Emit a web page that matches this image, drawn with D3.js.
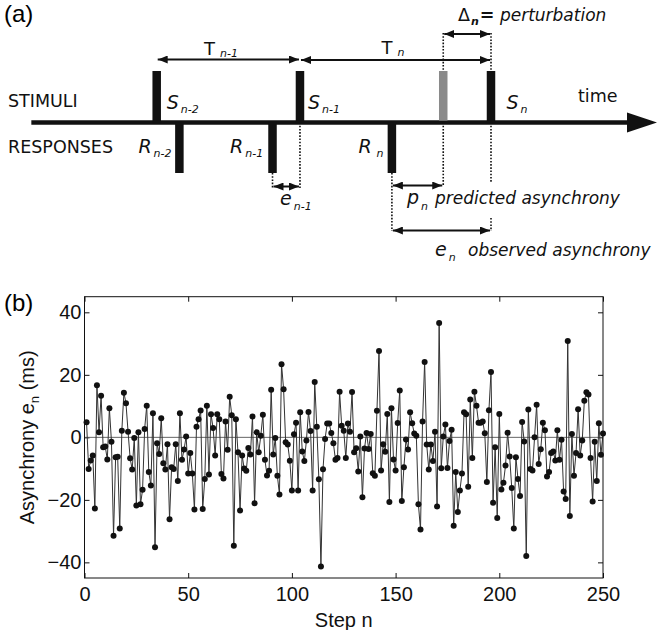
<!DOCTYPE html>
<html>
<head>
<meta charset="utf-8">
<script src="https://cdn.jsdelivr.net/npm/d3@7"></script>
<style>
    body { margin: 0; background: #fff; }
    svg { display: block; }
</style>
</head>
<body>
<div id="chart-area"></div>
<script>
// panel (b): asynchrony e_n (ms), steps 1..250
const asynchrony = [
    4.8, -10.1, -7.4, -5.8, -22.8, 16.7, 1.6, 13.3, -3.2, -2.9,
    -7.1, 9.3, -1.4, -31.5, -6.4, -6.2, -29.2, 2.1, 14.3, 10.9,
    1.8, -6.7, -10.3, -0.2, -21.8, 1.6, -21.4, -16.8, 2.7, 10.1,
    -11.1, -15.4, 7.7, -35.2, -1.9, -5.3, 6.1, -8.3, -10.3, -2.2,
    -26.2, -9.6, -10.1, -2.2, -14.0, 7.7, -7.2, -3.9, 0.3, -11.6,
    -5.0, -11.6, -23.1, 3.4, 5.8, 8.6, -22.9, -13.3, 10.1, -11.9,
    7.4, 3.0, -5.8, 7.4, 5.8, -11.7, -13.2, 5.1, -4.0, 13.0,
    7.1, -34.7, 5.8, -4.8, -23.4, -5.8, -10.0, -10.7, -3.4, -5.5,
    6.7, -21.1, 1.6, -4.8, 0.5, 7.2, -7.2, -12.2, -10.7, 15.2,
    -5.5, -0.2, -12.3, -18.3, 23.4, 15.4, -1.6, -2.3, -7.5, -17.0,
    1.0, 4.7, -17.0, 8.0, -4.5, -7.6, -1.0, 8.1, 2.0, -17.0,
    17.7, 3.4, -13.4, -41.3, -10.2, -0.5, 4.4, 4.4, 1.4, -1.9,
    -7.2, -6.6, 14.6, 3.7, 2.1, -6.6, 4.4, 1.8, 14.5, -4.8,
    -3.5, -10.9, 0.3, -19.2, -3.6, 1.4, -3.7, 1.1, -11.5, -12.3,
    8.5, 27.6, -10.6, -2.2, -4.6, 7.5, -20.7, 9.3, -7.1, -10.6,
    4.6, 15.0, -20.4, -9.6, -0.7, -3.9, 8.0, 4.5, 1.2, 0.5,
    -21.4, -29.5, 5.1, 24.1, -2.3, -10.3, -2.3, -7.6, 1.8, -22.1,
    36.6, -9.9, 0.3, 4.1, -9.8, -1.2, 2.4, -28.3, -11.1, -23.9,
    -17.0, -11.6, 8.0, 7.4, -15.8, 12.1, -6.6, 14.6, 10.1, 4.7,
    4.7, 5.1, 1.3, -14.3, 8.7, 20.9, -20.9, -3.2, -25.8, 7.5,
    -16.7, -14.5, -9.0, 1.5, -6.1, -16.2, -29.2, -6.4, -13.3, -18.8,
    4.9, -1.3, -38.0, 8.9, -10.1, -10.6, 0.0, 10.4, -8.5, -3.8,
    4.7, 2.3, -12.5, -11.1, -5.0, -4.5, -7.4, 2.3, -7.2, -0.8,
    -17.3, -19.7, 30.8, -25.2, 1.1, -12.3, -5.0, 9.0, -5.8, -1.0,
    11.7, 14.4, 13.7, -6.6, -20.5, -1.4, -14.0, 4.5, -5.6, 1.2
];
const steps = d3.range(1, asynchrony.length + 1);
const xTicks = [0, 50, 100, 150, 200, 250];
const yTicks = [-40, -20, 0, 20, 40];

// panel (a): schematic event times (ms)
const stimTimes = [0, 600, 1400];
const stimSubs = ["n-2", "n-1", "n"];
const predictedTime = 1200;
const respTimes = [95, 485, 985];
const respSubs = ["n-2", "n-1", "n"];

const width = 657;
const height = 630;
const sansFont = "'Liberation Sans', Arial, Helvetica, sans-serif";
const diagFont = "'DejaVu Sans', Verdana, sans-serif";

const svg = d3.select("#chart-area")
    .append("svg")
    .attr("width", width)
    .attr("height", height);

svg.append("rect").attr("width", width).attr("height", height).attr("fill", "#fff");

// ---------- panel (a) ----------
const defs = svg.append("defs");
defs.append("marker")
    .attr("id", "head")
    .attr("viewBox", "0 0 10 8")
    .attr("refX", 10)
    .attr("refY", 4)
    .attr("markerWidth", 10)
    .attr("markerHeight", 8)
    .attr("markerUnits", "userSpaceOnUse")
    .attr("orient", "auto-start-reverse")
    .append("path")
    .attr("d", "M0,0L10,4L0,8z")
    .attr("fill", "#111");

const a = svg.append("g").attr("font-family", diagFont).attr("fill", "#111");
const tx = d3.scaleLinear().domain([0, 1400]).range([156.7, 491]);
const axisY = 122.5;
const barTop = 71;
const barBottom = 173;
const barW = 8.5;

svg.append("text")
    .attr("x", 4).attr("y", 22)
    .attr("font-family", sansFont).attr("font-size", "24px")
    .text("(a)");

// time axis
a.append("line")
    .attr("x1", tx(-525)).attr("x2", 630)
    .attr("y1", axisY).attr("y2", axisY)
    .attr("stroke", "#111").attr("stroke-width", 4.5);
a.append("path")
    .attr("d", "M627," + (axisY - 10) + "L657," + axisY + "L627," + (axisY + 10) + "Z")
    .attr("fill", "#111");

// dotted guide lines
const dotted = [
    [predictedTime, 33, barTop],
    [stimTimes[2], 33, barTop],
    [predictedTime, axisY, 186],
    [stimTimes[2], axisY, 183],
    [stimTimes[2], 218, 231],
    [respTimes[2], barBottom, 231],
    [respTimes[1], barBottom, 188],
    [stimTimes[1], axisY, 188]
];
a.selectAll("line.dot")
    .data(dotted)
    .enter()
    .append("line")
    .attr("class", "dot")
    .attr("x1", (d) => tx(d[0])).attr("x2", (d) => tx(d[0]))
    .attr("y1", (d) => d[1]).attr("y2", (d) => d[2])
    .attr("stroke", "#111")
    .attr("stroke-width", 1.6)
    .attr("stroke-dasharray", "1.6,1.6");

// bars
a.selectAll("rect.stim")
    .data(stimTimes)
    .enter()
    .append("rect")
    .attr("class", "stim")
    .attr("x", (d) => tx(d) - barW / 2)
    .attr("y", barTop)
    .attr("width", barW)
    .attr("height", axisY - barTop)
    .attr("fill", "#111");
a.append("rect")
    .attr("x", tx(predictedTime) - barW / 2)
    .attr("y", barTop)
    .attr("width", barW)
    .attr("height", axisY - barTop - 2)
    .attr("fill", "#8a8a8a");
a.selectAll("rect.resp")
    .data(respTimes)
    .enter()
    .append("rect")
    .attr("class", "resp")
    .attr("x", (d) => tx(d) - barW / 2)
    .attr("y", axisY)
    .attr("width", barW)
    .attr("height", barBottom - axisY)
    .attr("fill", "#111");

// double arrows
const arrows = [
    [stimTimes[0], stimTimes[1], 59.5],
    [stimTimes[1], stimTimes[2], 60],
    [predictedTime, stimTimes[2], 34],
    [respTimes[1], stimTimes[1], 186.5],
    [respTimes[2], predictedTime, 185.5],
    [respTimes[2], stimTimes[2], 230.5]
];
a.selectAll("line.arrow")
    .data(arrows)
    .enter()
    .append("line")
    .attr("class", "arrow")
    .attr("x1", (d) => tx(d[0]) + 1).attr("x2", (d) => tx(d[1]) - 1)
    .attr("y1", (d) => d[2]).attr("y2", (d) => d[2])
    .attr("stroke", "#111")
    .attr("stroke-width", 2)
    .attr("marker-start", "url(#head)")
    .attr("marker-end", "url(#head)");

// text with subscripts: parts = [text, size, italic, bold, baselineShift, dx]
const mathText = (x, y, parts) => {
    const t = a.append("text").attr("x", x).attr("y", y);
    parts.forEach((p) => {
        t.append("tspan")
            .attr("y", y + (p[4] || 0))
            .attr("dx", p[5] || 0)
            .attr("font-size", p[1] + "px")
            .attr("font-style", p[2] ? "italic" : "normal")
            .attr("font-weight", p[3] ? "bold" : "normal")
            .text(p[0]);
    });
    return t;
};

mathText(8, 107, [["STIMULI", 17.5]]);
mathText(8, 152.5, [["RESPONSES", 17.5]]);
mathText(578, 101.5, [["time", 17.5]]);

const stimDx = [10, 8, 15.5];
stimTimes.forEach((t, i) => {
    mathText(tx(t) + stimDx[i], 109, [["S", 19, true], [stimSubs[i], 11, true, false, 4, 2]]);
});
const respDx = [-41, -42.5, -33.5];
respTimes.forEach((t, i) => {
    mathText(tx(t) + respDx[i], 152.5, [["R", 19, true], [respSubs[i], 11, true, false, 4, i === 2 ? 5 : 2]]);
});

mathText(204, 55, [["T", 18], ["n-1", 11, true, false, 2, 5]]);
mathText(381.5, 53.5, [["T", 18], ["n", 11, true, false, 2, 5]]);
mathText(458, 21, [["Δ", 17.5], ["n", 11, true, true, 4, 1], ["=", 17.5, false, true, 0, 1], [" perturbation", 17, true]]);
mathText(280, 205, [["e", 19, true], ["n-1", 11, true, false, 5, 2]]);
mathText(407, 204, [["p", 19, true], ["n", 11, true, false, 6, 2]]);
mathText(435, 204, [["predicted asynchrony", 17, true]]);
mathText(435, 256, [["e", 19, true], ["n", 11, true, false, 5, 2]]);
mathText(468, 256, [["observed asynchrony", 17, true]]);

// ---------- panel (b) ----------
const plot = { left: 84.5, right: 603, top: 296.7, bottom: 578 };

svg.append("text")
    .attr("x", 4).attr("y", 310.5)
    .attr("font-family", sansFont).attr("font-size", "24px")
    .text("(b)");

const x = d3.scaleLinear().domain([0, 250]).range([plot.left, plot.right]);
const y = d3.scaleLinear().domain([-45, 45]).range([plot.bottom, plot.top]);

const g = svg.append("g");

const styleAxis = (sel) => {
    sel.select(".domain").remove();
    sel.selectAll(".tick line").attr("stroke", "#111");
    sel.selectAll(".tick text")
        .attr("font-family", sansFont)
        .attr("font-size", "20px")
        .attr("fill", "#111");
};

g.append("g")
    .attr("transform", "translate(0," + plot.bottom + ")")
    .call(d3.axisBottom(x).tickValues(xTicks).tickSizeInner(-5).tickSizeOuter(0).tickPadding(9))
    .call(styleAxis);
g.append("g")
    .attr("transform", "translate(0," + plot.top + ")")
    .call(d3.axisTop(x).tickValues(xTicks).tickSizeInner(-5).tickSizeOuter(0).tickFormat(""))
    .call(styleAxis);
g.append("g")
    .attr("transform", "translate(" + plot.left + ",0)")
    .call(d3.axisLeft(y).tickValues(yTicks).tickSizeInner(-5).tickSizeOuter(0).tickPadding(3))
    .call(styleAxis);
g.append("g")
    .attr("transform", "translate(" + plot.right + ",0)")
    .call(d3.axisRight(y).tickValues(yTicks).tickSizeInner(-5).tickSizeOuter(0).tickFormat(""))
    .call(styleAxis);

// zero line
g.append("line")
    .attr("x1", x(0)).attr("x2", x(250))
    .attr("y1", y(0)).attr("y2", y(0))
    .attr("stroke", "#555")
    .attr("stroke-width", 0.9);

const line = d3.line()
    .x((d, i) => x(steps[i]))
    .y((d) => y(d));

g.append("path")
    .datum(asynchrony)
    .attr("d", line)
    .attr("fill", "none")
    .attr("stroke", "#333")
    .attr("stroke-width", 1);

g.selectAll("circle")
    .data(asynchrony)
    .enter()
    .append("circle")
    .attr("cx", (d, i) => x(steps[i]))
    .attr("cy", (d) => y(d))
    .attr("r", 3)
    .attr("fill", "#111");

// frame
g.append("rect")
    .attr("x", plot.left).attr("y", plot.top)
    .attr("width", plot.right - plot.left)
    .attr("height", plot.bottom - plot.top)
    .attr("fill", "none")
    .attr("stroke", "#111")
    .attr("stroke-width", 1);

// axis labels
const yLabel = g.append("text")
    .attr("transform", "translate(34," + y(0) + ") rotate(-90)")
    .attr("text-anchor", "middle")
    .attr("font-family", sansFont)
    .attr("font-size", "20px")
    .attr("fill", "#111");
yLabel.append("tspan").text("Asynchrony e");
yLabel.append("tspan").attr("dy", 5).attr("font-size", "13px").text("n");
yLabel.append("tspan").attr("dy", -5).text(" (ms)");

g.append("text")
    .attr("x", (plot.left + plot.right) / 2)
    .attr("y", 627)
    .attr("text-anchor", "middle")
    .attr("font-family", sansFont)
    .attr("font-size", "20px")
    .attr("fill", "#111")
    .text("Step n");
</script>
</body>
</html>
